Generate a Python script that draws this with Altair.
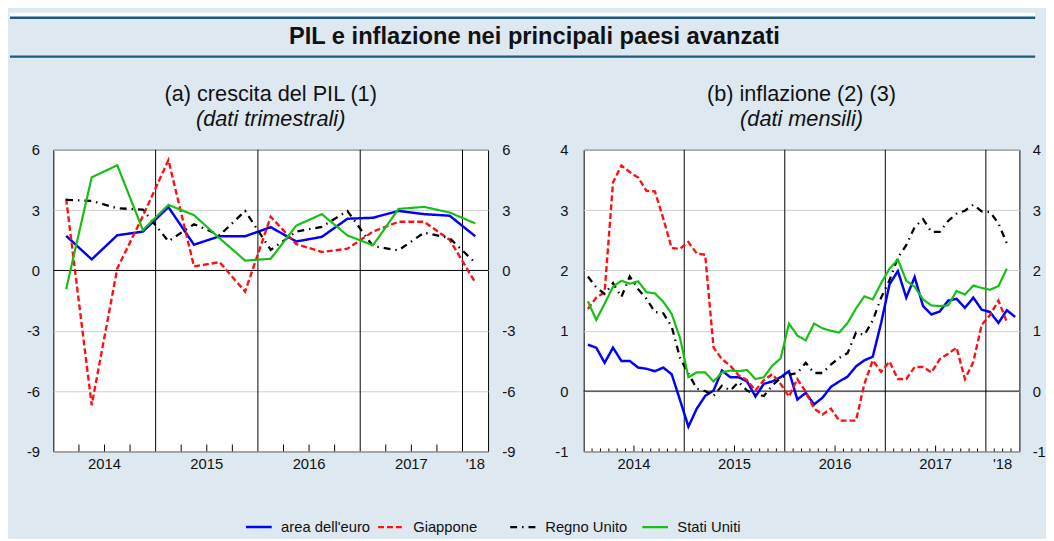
import altair as alt
import pandas as pd

# ---------------- data ----------------
series = ["area dell'euro", "Giappone", "Regno Unito", "Stati Uniti"]

quarters = ["2014Q1", "2014Q2", "2014Q3", "2014Q4", "2015Q1", "2015Q2", "2015Q3", "2015Q4",
            "2016Q1", "2016Q2", "2016Q3", "2016Q4", "2017Q1", "2017Q2", "2017Q3", "2017Q4",
            "2018Q1"]
gdp_euro = [1.72, 0.55, 1.75, 1.93, 3.15, 1.28, 1.70, 1.70, 2.15, 1.44, 1.67, 2.57, 2.62, 2.96, 2.80, 2.72, 1.70]
gdp_japan = [3.57, -6.70, 0.10, 2.70, 5.49, 0.20, 0.41, -1.05, 2.67, 1.31, 0.92, 1.08, 1.93, 2.42, 2.42, 1.52, -0.60]
gdp_uk = [3.51, 3.46, 3.09, 3.03, 1.45, 2.30, 1.75, 2.96, 1.02, 1.93, 2.17, 2.96, 1.20, 1.00, 1.88, 1.60, 0.38]
gdp_us = [-0.93, 4.63, 5.23, 2.01, 3.26, 2.75, 1.60, 0.49, 0.58, 2.23, 2.80, 1.74, 1.25, 3.06, 3.16, 2.88, 2.34]

months = [f"{y}-{m:02d}" for y in range(2014, 2019) for m in range(1, 13)][:52]
cpi_euro = [0.77, 0.72, 0.47, 0.72, 0.50, 0.50, 0.39, 0.37, 0.33, 0.39, 0.28, -0.15,
            -0.59, -0.29, -0.08, 0.01, 0.34, 0.23, 0.23, 0.16, -0.09, 0.12, 0.16, 0.23,
            0.33, -0.14, -0.03, -0.22, -0.11, 0.07, 0.16, 0.24, 0.41, 0.51, 0.57, 1.13,
            1.77, 1.99, 1.55, 1.89, 1.41, 1.27, 1.32, 1.50, 1.53, 1.38, 1.55, 1.35,
            1.31, 1.13, 1.34, 1.23]
cpi_japan = [1.36, 1.55, 1.64, 3.46, 3.74, 3.63, 3.54, 3.32, 3.31, 2.86, 2.37, 2.36,
             2.47, 2.28, 2.26, 0.72, 0.53, 0.42, 0.26, 0.18, 0.01, 0.18, 0.28, 0.12,
             -0.09, 0.20, -0.01, -0.29, -0.39, -0.29, -0.49, -0.49, -0.49, 0.12, 0.51, 0.32,
             0.49, 0.20, 0.20, 0.40, 0.40, 0.31, 0.53, 0.62, 0.72, 0.20, 0.48, 1.10,
             1.26, 1.50, 1.15]
cpi_uk = [1.90, 1.72, 1.61, 1.79, 1.56, 1.90, 1.69, 1.53, 1.31, 1.29, 1.07, 0.55,
          0.29, 0.04, 0.00, -0.08, 0.09, 0.01, 0.15, 0.01, -0.06, -0.08, 0.09, 0.22,
          0.27, 0.30, 0.47, 0.30, 0.30, 0.44, 0.55, 0.63, 0.97, 0.93, 1.17, 1.55,
          1.84, 2.21, 2.42, 2.72, 2.85, 2.64, 2.64, 2.82, 2.94, 2.99, 3.09, 2.98,
          2.97, 2.78, 2.45]
cpi_us = [1.49, 1.18, 1.45, 1.73, 1.83, 1.78, 1.82, 1.64, 1.62, 1.48, 1.28, 0.88,
          0.23, 0.31, 0.31, 0.16, 0.31, 0.34, 0.33, 0.35, 0.20, 0.23, 0.42, 0.54,
          1.12, 0.92, 0.84, 1.12, 1.04, 1.00, 0.97, 1.13, 1.37, 1.57, 1.52, 1.79,
          2.03, 2.18, 1.83, 1.73, 1.52, 1.42, 1.41, 1.42, 1.66, 1.60, 1.75, 1.71,
          1.68, 1.74, 2.03]

main_title = "PIL e inflazione nei principali paesi avanzati"
title_a = "(a) crescita del PIL (1)"
sub_a = "(dati trimestrali)"
title_b = "(b) inflazione (2) (3)"
sub_b = "(dati mensili)"
yticks_a = [-9, -6, -3, 0, 3, 6]
yticks_b = [-1, 0, 1, 2, 3, 4]
year_lines = [2015, 2016, 2017, 2018]
xlabels = ["2014", "2015", "2016", "2017", "'18"]

# ---------------- styles ----------------
BG = "#dde8f1"
TEAL = "#1f5a7a"
FONT = "Liberation Sans"
TXT = "#111111"
colors = ["#0000ff", "#ff1010", "#000000", "#14c014"]
dashes = [[1, 0], [6, 3], [7, 5, 1.5, 5], [1, 0]]
widths = [2.5, 2.2, 2.0, 1.8]
WA, WB, H = 441, 442, 306
GAP = 97


def qpos(q):
    return int(q[:4]) + (int(q[-1]) - 0.5) / 4


def mpos(m):
    return int(m[:4]) + (int(m[5:7]) - 0.5) / 12


rows_a = []
for name, vals in zip(series, [gdp_euro, gdp_japan, gdp_uk, gdp_us]):
    for q, v in zip(quarters, vals):
        rows_a.append({"serie": name, "x": qpos(q), "v": v})
df_a = pd.DataFrame(rows_a)

rows_b = []
for name, vals in zip(series, [cpi_euro, cpi_japan, cpi_uk, cpi_us]):
    for m, v in zip(months, vals):
        rows_b.append({"serie": name, "x": mpos(m), "v": v})
df_b = pd.DataFrame(rows_b)

ticks_a = [y + k / 4 for y in range(2014, 2018) for k in (1, 2, 3)]
ticks_b_minor = [y + k / 12 for y in range(2014, 2018) for k in range(1, 12) if k != 6] + \
                [2018 + k / 12 for k in (1, 2, 3)]
ticks_b_major = [y + 0.5 for y in range(2014, 2018)]
xlab_pos_a = [2014.5, 2015.5, 2016.5, 2017.5, 2018.125]
xlab_pos_b = [2014.5, 2015.5, 2016.5, 2017.5, 2018 + 2 / 12]

legend = alt.Legend(title=None, orient="none", legendX=194, legendY=368,
                    direction="horizontal", symbolType="stroke", symbolSize=676,
                    symbolStrokeWidth=2.3, labelFontSize=15, labelFont=FONT,
                    labelColor=TXT, labelOffset=8, columnPadding=2, gridAlign="all",
                    padding=0)

ylab_expr = "'' + datum.value"


def titles(W, title, subtitle):
    t = alt.Chart(pd.DataFrame({"t": [title]})).mark_text(
        fontSize=22, font=FONT, color=TXT, baseline="middle", align="center").encode(
        x=alt.value(W / 2), y=alt.value(-57), text="t:N")
    s = alt.Chart(pd.DataFrame({"t": [subtitle]})).mark_text(
        fontSize=22, font=FONT, fontStyle="italic", color=TXT, baseline="middle",
        align="center").encode(x=alt.value(W / 2), y=alt.value(-31), text="t:N")
    return [t, s]


def panel(df, W, xdom, ydom, yvals, minor_ticks, minor_len, major_ticks, major_len,
          xlab_pos, title, subtitle, lpad, rpad, extra=()):
    xs = alt.Scale(domain=xdom, nice=False, zero=False)
    ys = alt.Scale(domain=ydom, nice=False, zero=False)
    seps = alt.Chart(pd.DataFrame({"x": year_lines})).mark_rule(
        color="black", strokeWidth=1).encode(x=alt.X("x:Q", scale=xs, axis=None))
    zero = alt.Chart(pd.DataFrame({"v": [0]})).mark_rule(
        color="black", strokeWidth=1).encode(
        y=alt.Y("v:Q", scale=ys,
                axis=alt.Axis(orient="right", values=yvals, grid=False, ticks=False,
                              domain=False, labelPadding=rpad, title=None,
                              labelFontSize=15, labelColor=TXT, labelFont=FONT,
                              labelExpr=ylab_expr)))
    layers = list(extra) + titles(W, title, subtitle) + [seps, zero]
    tk = alt.Chart(pd.DataFrame({"x": minor_ticks})).mark_rule(
        color="black", strokeWidth=1).encode(
        x=alt.X("x:Q", scale=xs, axis=None), y=alt.value(H), y2=alt.value(H - minor_len))
    layers.append(tk)
    if major_ticks:
        tk2 = alt.Chart(pd.DataFrame({"x": major_ticks})).mark_rule(
            color="black", strokeWidth=1).encode(
            x=alt.X("x:Q", scale=xs, axis=None), y=alt.value(H), y2=alt.value(H - major_len))
        layers.append(tk2)
    xl = alt.Chart(pd.DataFrame({"x": xlab_pos, "t": xlabels})).mark_text(
        fontSize=15, font=FONT, color=TXT, baseline="middle", align="center").encode(
        x=alt.X("x:Q", scale=xs, axis=None), y=alt.value(H + 13), text="t:N")
    layers.append(xl)
    lines = alt.Chart(df).mark_line().encode(
        x=alt.X("x:Q", scale=xs, axis=None),
        y=alt.Y("v:Q", scale=ys,
                axis=alt.Axis(orient="left", values=yvals, grid=True, gridColor="#cfcfcf",
                              gridWidth=1, ticks=False, domain=False, labelPadding=lpad,
                              title=None, labelFontSize=15, labelColor=TXT,
                              labelFont=FONT, labelExpr=ylab_expr)),
        color=alt.Color("serie:N", scale=alt.Scale(domain=series, range=colors), legend=legend),
        strokeDash=alt.StrokeDash("serie:N", scale=alt.Scale(domain=series, range=dashes),
                                  legend=legend),
        strokeWidth=alt.StrokeWidth("serie:N", scale=alt.Scale(domain=series, range=widths),
                                    legend=None),
    )
    layers.append(lines)
    return alt.layer(*layers).resolve_axis(y="independent").properties(
        width=W, height=H,
        view=alt.ViewBackground(fill="white", stroke="black", strokeWidth=1),
    )


# ---- header band (drawn relative to panel (a) plot origin) ----
LEFT, RIGHT = -44, WA + GAP + WB + 16
hdr = pd.DataFrame({"t": [main_title]})
white_strip = alt.Chart(hdr).mark_rect(color="white").encode(
    x=alt.value(LEFT), x2=alt.value(RIGHT), y=alt.value(-139), y2=alt.value(-135))
line_top = alt.Chart(hdr).mark_rule(color=TEAL, strokeWidth=2.5).encode(
    x=alt.value(LEFT), x2=alt.value(RIGHT), y=alt.value(-134))
line_bot = alt.Chart(hdr).mark_rule(color=TEAL, strokeWidth=2.5).encode(
    x=alt.value(LEFT), x2=alt.value(RIGHT), y=alt.value(-94.5))
title_txt = alt.Chart(hdr).mark_text(fontSize=24, fontWeight="bold", font=FONT,
                                     color=TXT, baseline="middle",
                                     align="center").encode(
    x=alt.value(488), y=alt.value(-114), text="t:N")

panel_a = panel(df_a, WA, [2014, 2018.25], [-9, 6], yticks_a, ticks_a, 7, [], 0,
                xlab_pos_a, title_a, sub_a, 14, 14,
                extra=(white_strip, line_top, line_bot, title_txt))
panel_b = panel(df_b, WB, [2014, 2018 + 4 / 12], [-1, 4], yticks_b, ticks_b_minor, 3,
                ticks_b_major, 6, xlab_pos_b, title_b, sub_b, 16, 13)

chart = alt.hconcat(panel_a, panel_b, spacing=GAP, bounds="flush").properties(
    background=BG, padding=0
).configure(font=FONT).configure_view(stroke="transparent")

chart.save("out.html", embed_options={"renderer": "svg", "actions": False})
